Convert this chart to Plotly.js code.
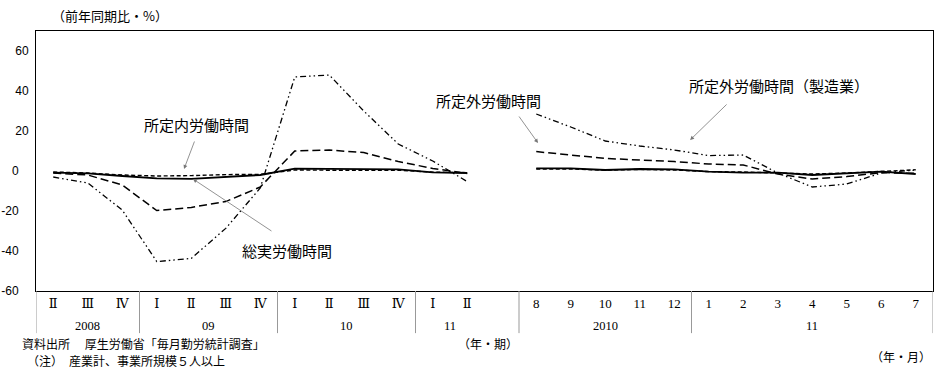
<!DOCTYPE html>
<html><head><meta charset="utf-8">
<script src="https://cdn.plot.ly/plotly-3.0.1.min.js"></script>
<style>html,body{margin:0;padding:0;background:#fff}#chart{width:948px;height:368px}</style>
</head><body><div id="chart"></div>
<script>
// ---- data ----
const quarterLabels = ['Ⅱ','Ⅲ','Ⅳ','Ⅰ','Ⅱ','Ⅲ','Ⅳ','Ⅰ','Ⅱ','Ⅲ','Ⅳ','Ⅰ','Ⅱ'];
const monthLabels = ['8','9','10','11','12','1','2','3','4','5','6','7'];
const quarterYears = ['2008','09','10','11'];
const quarterYearCounts = [3,4,4,2];
const monthYears = ['2010','11'];
const monthYearCounts = [5,7];

const totalQ     = [-0.8,-1.2,-2.5,-3.7,-3.9,-3.0,-2.0,1.2,1.2,0.9,0.8,-0.7,-1.0];
const totalM     = [1.3,1.3,0.5,1.0,0.8,-0.3,-0.8,-0.8,-2.0,-1.2,-0.3,-1.5];
const scheduledQ = [-0.5,-1.0,-2.0,-2.5,-2.3,-1.8,-1.7,0.5,0.4,0.4,0.4,-0.6,-0.8];
const scheduledM = [1.0,1.0,0.4,0.8,0.5,-0.3,-0.5,-1.0,-1.5,-1.0,-0.2,0.6];
const overtimeQ  = [-1,-2,-7,-19.8,-18.2,-15.3,-8,10,10.5,9.2,4.7,1.3,-1.2];
const overtimeM  = [9.7,8,6.3,5.5,4.7,3.5,3,-1.5,-4,-2.8,-0.8,-1.2];
const mfgQ       = [-3,-6,-19.5,-45.3,-43.7,-28.7,-8.5,47,48,30,13.5,5,-5.3];
const mfgM       = [28.5,22,15,12.5,10.5,7.7,8,-1,-8,-6.5,-1,0.5];

const yTicks = [-60,-40,-20,0,20,40,60];

// ---- layout helpers ----
const GAP = 1; // one empty slot between quarterly and monthly parts
const qPos = quarterLabels.map((_, i) => i);
const mStart = quarterLabels.length + GAP;
const mPos = monthLabels.map((_, i) => mStart + i);
const xs = qPos.concat([quarterLabels.length]).concat(mPos);
const join = (q, m) => q.concat([null]).concat(m);
const last = mPos[mPos.length - 1];

const serif = 'Liberation Serif, DejaVu Serif, serif';
const jp = 'Noto Sans CJK JP, sans-serif';

function trace(q, m, dash, width) {
  return {x: xs, y: join(q, m), type: 'scatter', mode: 'lines',
    line: {color: '#000', width: width, dash: dash}, connectgaps: false,
    hoverinfo: 'skip', showlegend: false};
}
const data = [
  trace(mfgQ, mfgM, '6px,3px,1.5px,3px,1.5px,3px', 1.3),
  trace(overtimeQ, overtimeM, '8px,4px', 1.5),
  trace(scheduledQ, scheduledM, '4px,2.5px', 1.4),
  trace(totalQ, totalM, 'solid', 1.8)
];

// separators and year labels
const shapes = [];
const annotations = [];
const sepBottom = -0.162;
const yearY = -0.1365;
const yearFont = {family: serif, size: 12.5, color:'#000'};
let b = -0.5;
shapes.push({type:'line', xref:'x', yref:'paper', x0:b, x1:b, y0:0, y1:sepBottom, line:{color:'#999', width:1}});
quarterYears.forEach((yr, i) => {
  const n = quarterYearCounts[i];
  annotations.push({x: b + n/2, y: yearY, xref:'x', yref:'paper', text: yr, showarrow:false,
    font: yearFont, yanchor:'middle'});
  b += n;
  if (i === quarterYears.length - 1) b += GAP;
  shapes.push({type:'line', xref:'x', yref:'paper', x0:b, x1:b, y0:0, y1:sepBottom, line:{color:'#999', width:1}});
});
monthYears.forEach((yr, i) => {
  const n = monthYearCounts[i];
  annotations.push({x: b + n/2, y: yearY, xref:'x', yref:'paper', text: yr, showarrow:false,
    font: yearFont, yanchor:'middle'});
  b += n;
  shapes.push({type:'line', xref:'x', yref:'paper', x0:b, x1:b, y0:0, y1:sepBottom, line:{color:'#999', width:1}});
});

// series labels with arrows
const lab = {family: jp, size: 15, color: '#000'};
const arrow = (x, y, ax, ay) => ({x, y, xref:'x', yref:'y', text:'', showarrow:true,
  ax, ay, arrowhead:2, arrowsize:1, arrowwidth:0.8, arrowcolor:'#777'});
annotations.push(
  {x: 4.14, y: 23.5, xref:'x', yref:'y', text:'所定内労働時間', showarrow:false, font: lab},
  arrow(3.79, 1, 11, -29),
  {x: 6.78, y: -39.5, xref:'x', yref:'y', text:'総実労働時間', showarrow:false, font: lab},
  arrow(4.05, -4, 80, 53),
  {x: 12.63, y: 35.5, xref:'x', yref:'y', text:'所定外労働時間', showarrow:false, font: lab},
  arrow(14.05, 14, -20, -28),
  {x: 21.04, y: 43, xref:'x', yref:'y', text:'所定外労働時間（製造業）', showarrow:false, font: lab},
  arrow(18.46, 15.5, 38, -37)
);

// titles and notes
const note = {family: jp, size: 13, color: '#000'};
const note12 = {family: jp, size: 12, color: '#000'};
annotations.push(
  {x: 0.0156, y: 1.0615, xref:'paper', yref:'paper', text:'（前年同期比・%）', showarrow:false,
    xanchor:'left', yanchor:'middle', font: note},
  {x: -0.0178, y: -0.2019, xref:'paper', yref:'paper', text:'資料出所　 厚生労働省「毎月勤労統計調査」',
    showarrow:false, xanchor:'left', yanchor:'middle', font: note12},
  {x: -0.012, y: -0.2654, xref:'paper', yref:'paper', text:'（注）　産業計、事業所規模５人以上',
    showarrow:false, xanchor:'left', yanchor:'middle', font: note12},
  {x: 0.504, y: -0.2019, xref:'paper', yref:'paper', text:'（年・期）', showarrow:false,
    xanchor:'center', yanchor:'middle', font: note12},
  {x: 1.0, y: -0.2538, xref:'paper', yref:'paper', text:'（年・月）', showarrow:false,
    xanchor:'right', yanchor:'middle', font: note12}
);

const layout = {
  width: 948, height: 368,
  margin: {l: 36, r: 15, t: 31, b: 77},
  paper_bgcolor: '#fff', plot_bgcolor: '#fff',
  showlegend: false,
  xaxis: {range: [-0.5, last + 0.5], tickvals: qPos.concat(mPos), ticktext: quarterLabels.concat(monthLabels),
    ticks: '', showgrid: false, zeroline: false, showline: true, mirror: true, linecolor: '#000', linewidth: 1,
    tickfont: {family: serif, size: 13, color: '#000'}, fixedrange: true},
  yaxis: {range: [-60, 70], tickvals: yTicks,
    ticktext: yTicks.map(v => v > 0 ? String(v) : String(v) + '\u00a0\u00a0\u00a0'),
    ticklabelstandoff: 4,
    ticks: '', showgrid: false, zeroline: false, showline: true, mirror: true, linecolor: '#000', linewidth: 1,
    tickfont: {family: 'Liberation Sans, Arial, sans-serif', size: 12, color: '#000'}, fixedrange: true},
  shapes, annotations
};
Plotly.newPlot('chart', data, layout, {displayModeBar: false, staticPlot: true});
</script>
</body></html>
